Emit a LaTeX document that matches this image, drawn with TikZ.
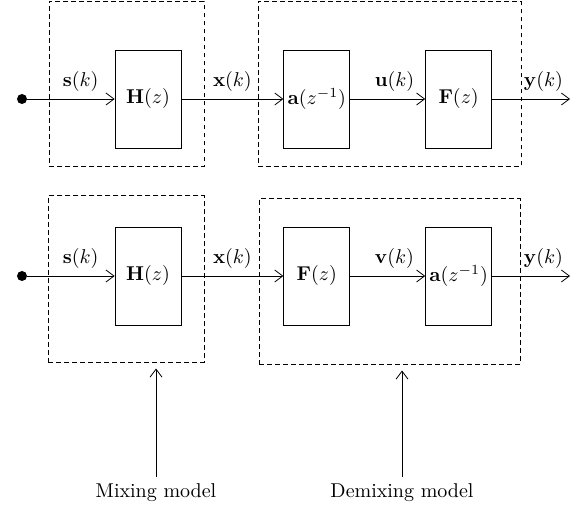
\documentclass[tikz,border=0pt]{standalone}
\usetikzlibrary{positioning,arrows.meta}

\tikzset{
    block/.style={draw, minimum width=33pt, minimum height=49pt, inner sep=1pt},
    group/.style={draw, line width=0.5pt, dash pattern=on 2.4pt off 1.6pt, minimum height=82.5pt},
    source/.style={circle, fill, inner sep=0pt, minimum size=5pt},
    sig/.style={above=2.5pt, inner sep=1pt},
}

\begin{document}
\begin{tikzpicture}[x=0.5pt, y=-0.5pt, >={Straight Barb[length=4pt,width=6pt]}]
    \useasboundingbox (0,0) rectangle (571,512);

    % upper chain
    \node[source] (s1) at (22,99) {};
    \node[block] (h1) at (148,99) {$\mathbf{H}(z)$};
    \node[block, right=51pt of h1] (a1) {$\mathbf{a}(z^{-1})$};
    \node[block, right=37.5pt of a1] (f1) {$\mathbf{F}(z)$};
    \coordinate (o1) at (570,99);

    \node[group, minimum width=77.5pt] (mix1) at (126.5,84) {};
    \node[group, minimum width=131.5pt] (dem1) at (389.5,84) {};

    \draw[->] (s1) -- node[sig, pos=0.61] {$\mathbf{s}(k)$} (h1);
    \draw[->] (h1) -- node[sig] {$\mathbf{x}(k)$} (a1);
    \draw[->] (a1) -- node[sig, pos=0.59] {$\mathbf{u}(k)$} (f1);
    \draw[->] (f1) -- node[sig, pos=0.66] {$\mathbf{y}(k)$} (o1);

    % lower chain
    \node[source] (s2) at (22,276) {};
    \node[block] (h2) at (148,276) {$\mathbf{H}(z)$};
    \node[block, right=51pt of h2] (f2) {$\mathbf{F}(z)$};
    \node[block, right=37.5pt of f2] (a2) {$\mathbf{a}(z^{-1})$};
    \coordinate (o2) at (570,276);

    \node[group, minimum width=78pt, minimum height=83pt] (mix2) at (126,279) {};
    \node[group, minimum width=130.5pt] (dem2) at (389.5,281.5) {};

    \draw[->] (s2) -- node[sig, pos=0.61] {$\mathbf{s}(k)$} (h2);
    \draw[->] (h2) -- node[sig] {$\mathbf{x}(k)$} (f2);
    \draw[->] (f2) -- node[sig, pos=0.59] {$\mathbf{v}(k)$} (a2);
    \draw[->] (a2) -- node[sig, pos=0.66] {$\mathbf{y}(k)$} (o2);

    % captions
    \node (mixlbl) at (156,493) {Mixing model};
    \node (demlbl) at (402,493) {Demixing model};
    \draw[->, shorten >=3pt] (mixlbl) -- (mixlbl |- mix2.south);
    \draw[->, shorten >=3pt] (demlbl) -- (demlbl |- dem2.south);
\end{tikzpicture}
\end{document}
